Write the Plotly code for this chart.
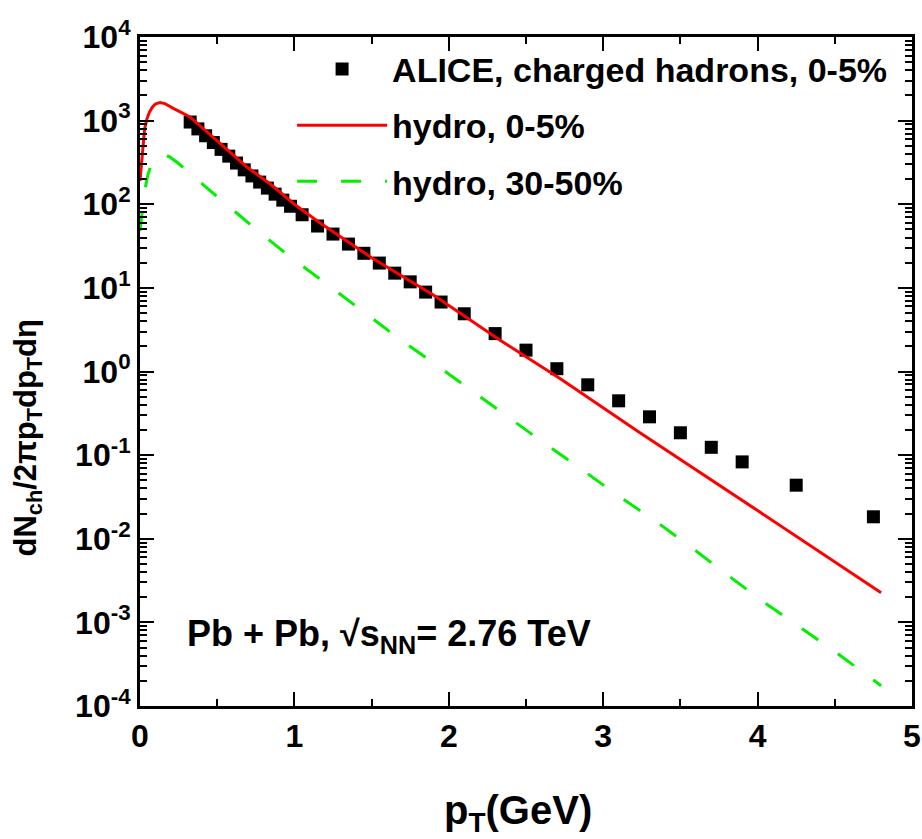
import plotly.graph_objects as go

# ALICE charged-hadron spectrum, 0-5% centrality
pt_alice = [0.325, 0.375, 0.425, 0.475, 0.525, 0.575, 0.625, 0.675, 0.725, 0.775,
            0.825, 0.875, 0.925, 0.975,
            1.05, 1.15, 1.25, 1.35, 1.45, 1.55, 1.65, 1.75, 1.85, 1.95,
            2.1, 2.3, 2.5, 2.7, 2.9, 3.1, 3.3, 3.5, 3.7, 3.9, 4.25, 4.75]
yield_alice = [962, 796, 659, 547, 453, 376, 311, 258, 218, 184,
               156, 132, 112, 94.6,
               74.9, 54.9, 44.0, 33.4, 25.9, 19.8, 15.0, 11.8, 8.9, 6.77,
               4.9, 2.84, 1.80, 1.08, 0.693, 0.446, 0.287, 0.185, 0.124, 0.083,
               0.0437, 0.0183]

# hydrodynamic calculation, 0-5%
pt_hydro_central = [0.0, 0.01, 0.02, 0.03, 0.045, 0.06, 0.08, 0.1, 0.13, 0.16, 0.216,
                    0.259, 0.324, 0.5, 0.69, 0.85, 1.0, 1.155, 1.5, 1.9, 2.33,
                    2.72, 2.979, 3.238, 4.0, 4.49, 4.8]
yield_hydro_central = [190, 330, 550, 800, 1050, 1250, 1450, 1580, 1650, 1600, 1400,
                       1278, 1106, 571, 281, 171, 100, 61.8, 22.9, 8.2, 2.38,
                       0.826, 0.39, 0.185, 0.0217, 5.46e-3, 2.26e-3]

# hydrodynamic calculation, 30-50%
pt_hydro_peripheral = [0.0, 0.01, 0.02, 0.035, 0.05, 0.07, 0.1, 0.14, 0.19, 0.246,
                       0.3, 0.473, 0.718, 0.957, 1.19, 1.43, 1.662, 1.9, 2.606,
                       2.852, 3.083, 3.33, 3.559, 3.8, 4.03, 4.27, 4.513, 4.757, 4.8]
yield_hydro_peripheral = [48, 75, 100, 160, 220, 290, 360, 395, 370, 311,
                          257, 136, 56.4, 24.7, 11.8, 5.5, 2.6, 1.27, 0.144,
                          0.0693, 0.0341, 0.0167, 8.2e-3, 3.75e-3, 1.8e-3, 8.9e-4,
                          4.3e-4, 2.0e-4, 1.75e-4]

x_ticks = [0, 1, 2, 3, 4, 5]
y_tickvals = [1e-4, 1e-3, 1e-2, 1e-1, 1e0, 1e1, 1e2, 1e3, 1e4]
y_ticktext = ["10<sup>-4</sup>", "10<sup>-3</sup>", "10<sup>-2</sup>", "10<sup>-1</sup>",
              "10<sup>0</sup>", "10<sup>1</sup>", "10<sup>2</sup>", "10<sup>3</sup>",
              "10<sup>4</sup>"]

FONT = "Liberation Sans, Arial, sans-serif"

fig = go.Figure()
fig.add_trace(go.Scatter(
    x=pt_alice, y=yield_alice, mode="markers",
    name="ALICE, charged hadrons, 0-5%", legendgroup="alice",
    marker=dict(symbol="square", size=13, color="black", line=dict(width=0)),
))
fig.add_trace(go.Scatter(
    x=pt_hydro_central, y=yield_hydro_central, mode="lines",
    name="hydro, 0-5%", legendgroup="central",
    line=dict(color="#ff0000", width=3),
))
fig.add_trace(go.Scatter(
    x=pt_hydro_peripheral, y=yield_hydro_peripheral, mode="lines",
    name="hydro, 30-50%", legendgroup="peripheral",
    line=dict(color="#00f000", width=3, dash="20px,24px"),
))

axis_common = dict(
    showline=True, linecolor="black", linewidth=3, mirror="ticks",
    ticks="inside", ticklen=14, tickwidth=2, tickcolor="black",
    showgrid=False, zeroline=False,
    tickfont=dict(family=FONT, size=32, color="black", weight="bold"),
)

fig.update_xaxes(
    range=[0, 5], tickvals=x_ticks, ticktext=[str(v) for v in x_ticks],
    minor=dict(dtick=0.5, ticks="inside", ticklen=7, tickwidth=2, tickcolor="black",
               showgrid=False),
    **axis_common,
)
fig.update_yaxes(
    type="log", range=[-4, 4], tickvals=y_tickvals, ticktext=y_ticktext,
    minor=dict(dtick="D1", ticks="inside", ticklen=7, tickwidth=2, tickcolor="black",
               showgrid=False),
    **axis_common,
)

fig.add_annotation(
    text="dN<sub>ch</sub>/2πp<sub>T</sub>dp<sub>T</sub>dη",
    xref="paper", yref="paper", x=-0.145, y=0.40,
    xanchor="center", yanchor="middle", textangle=-90, showarrow=False,
    font=dict(family=FONT, size=31, color="black", weight="bold"),
)
fig.add_annotation(
    text="p<sub>T</sub>(GeV)",
    xref="paper", yref="paper", x=0.49, y=-0.16,
    xanchor="center", yanchor="middle", showarrow=False,
    font=dict(family=FONT, size=40, color="black", weight="bold"),
)
fig.add_annotation(
    text="Pb + Pb, √s<sub>NN</sub>= 2.76 TeV",
    xref="x", yref="y", x=0.29, y=-3.16,
    xanchor="left", yanchor="middle", showarrow=False,
    font=dict(family=FONT, size=36, color="black", weight="bold"),
)

fig.update_layout(
    width=922, height=839,
    margin=dict(l=140, r=10, t=37, b=133, autoexpand=False),
    paper_bgcolor="white", plot_bgcolor="white",
    showlegend=True,
    legend=dict(
        x=0.197, y=0.995, xanchor="left", yanchor="top",
        bgcolor="rgba(0,0,0,0)", borderwidth=0,
        font=dict(family=FONT, size=34, color="black", weight="bold"),
        itemwidth=90, tracegroupgap=9,
    ),
)

fig.write_html("out.html")
